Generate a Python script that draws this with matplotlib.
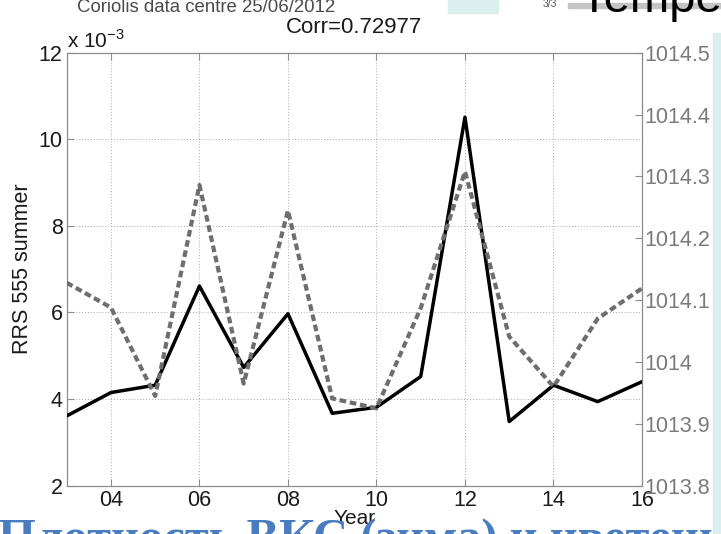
import matplotlib
matplotlib.use("Agg")
import matplotlib.pyplot as plt
from matplotlib.patches import Rectangle
from matplotlib.ticker import FuncFormatter, MultipleLocator

plt.rcParams['font.family'] = ['Liberation Sans', 'DejaVu Sans']

# summer RRS 555 (x 1e-3) and sea level pressure, 2003-2016
years = [2003, 2004, 2005, 2006, 2007, 2008, 2009, 2010, 2011, 2012, 2013, 2014, 2015, 2016]
rrs555 = [3.61, 4.15, 4.32, 6.61, 4.73, 5.97, 3.67, 3.81, 4.52, 10.51, 3.48, 4.32, 3.94, 4.40]
pressure = [1014.128, 1014.088, 1013.945, 1014.286, 1013.965, 1014.245, 1013.941,
            1013.925, 1014.087, 1014.308, 1014.041, 1013.960, 1014.070, 1014.119]
corr_label = "Corr=0.72977"
left_ticks = [2, 4, 6, 8, 10, 12]
right_ticks = [1013.8, 1013.9, 1014.0, 1014.1, 1014.2, 1014.3, 1014.4, 1014.5]
right_labels = ["1013.8", "1013.9", "1014", "1014.1", "1014.2", "1014.3", "1014.4", "1014.5"]

fig = plt.figure(figsize=(7.21, 5.34), dpi=100)
ax = fig.add_axes([0.0925, 0.0906, 0.7979, 0.8107])

ax.plot(years, rrs555, color='black', lw=2.5, zorder=3)
ax.set_xlim(2003, 2016)
ax.set_ylim(2, 12)
ax.set_yticks(left_ticks)
ax.xaxis.set_major_locator(MultipleLocator(2))
ax.xaxis.set_major_formatter(FuncFormatter(lambda v, p: "%02d" % (int(v) % 100)))
ax.grid(True, ls=(0, (1, 2)), color='#a8a8a8', lw=0.7)
ax.tick_params(direction='in', length=5, labelsize=15.5, colors='#8c8c8c',
               labelcolor='#1a1a1a', top=True, right=True, pad=3)
for sp in ax.spines.values():
    sp.set_color('#8c8c8c')
    sp.set_linewidth(0.9)
ax.set_ylabel("RRS 555 summer", fontsize=15.5, color='#1a1a1a', labelpad=4)
ax.set_xlabel("Year", fontsize=15, color='#1a1a1a', labelpad=-1, zorder=10)
ax.set_title(corr_label, fontsize=16, color='#1a1a1a', pad=14)
ax.text(0.0, 1.012, r"x 10$^{\mathregular{-3}}$", transform=ax.transAxes,
        fontsize=15, color='#1a1a1a', va='baseline', ha='left')

ax2 = ax.twinx()
ax2.plot(years, pressure, color='#6e6e6e', lw=3.0, ls=(0, (1.6, 0.9)), zorder=2)
ax2.set_ylim(1013.8, 1014.5)
ax2.set_yticks(right_ticks)
ax2.set_yticklabels(right_labels)
ax2.tick_params(direction='in', length=5, labelsize=15.5, colors='#8c8c8c',
                labelcolor='#7a7a7a', pad=2)
for sp in ax2.spines.values():
    sp.set_visible(False)

# slide decorations around the figure
fig.text(77 / 721, 1 - 12 / 534, "Coriolis data centre 25/06/2012", fontsize=13.4,
         color='#4a4a4a', va='baseline', ha='left')
fig.patches.append(Rectangle((448 / 721, 1 - 13 / 534), 50 / 721, 13 / 534,
                             transform=fig.transFigure, color='#dcefef', zorder=0))
fig.patches.append(Rectangle((568 / 721, 1 - 8 / 534), 160 / 721, 5 / 534,
                             transform=fig.transFigure, color='#c4c4c4', zorder=0))
fig.text(543 / 721, 1 - 7 / 534, "3/3", fontsize=7.5, color='#555555', va='baseline')
fig.text(580 / 721, 1 - 12 / 534, "Tempe", fontsize=34, color='black', va='baseline')
fig.text(-2 / 721, 1 - 553 / 534, "Плотность ВКС (зима) и цветени", fontsize=35,
         family=['Liberation Serif', 'DejaVu Serif'], weight='bold', color='#4a7cc0',
         va='baseline', ha='left', zorder=1)
fig.patches.append(Rectangle((713 / 721, 0), 8 / 721, 1 - 33 / 534,
                             transform=fig.transFigure, color='#dcefef', zorder=5))

fig.savefig("out.png", dpi=100)
